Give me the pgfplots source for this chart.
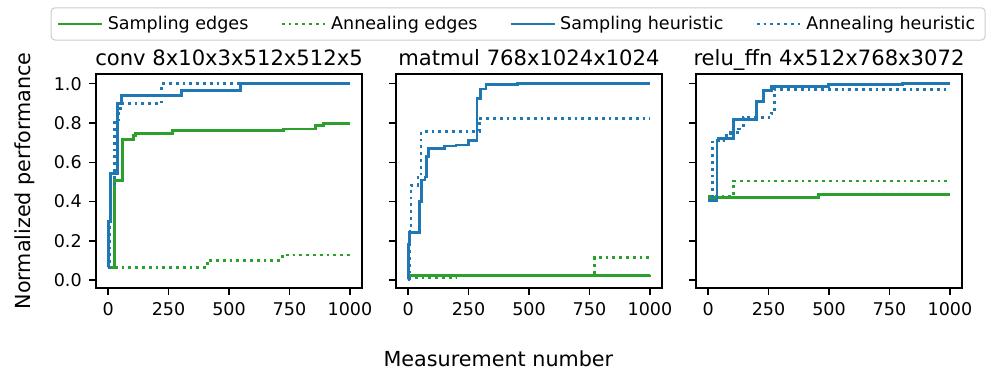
\documentclass[border=0pt]{standalone}
\usepackage{fontspec}
\setmainfont{DejaVu Sans}
\usepackage{pgfplots}
\pgfplotsset{compat=1.18}

\definecolor{tabgreen}{HTML}{2CA02C}
\definecolor{tabblue}{HTML}{1F77B4}

\pgfplotsset{
  panel/.style={
    scale only axis, width=133bp, height=107bp,
    xmin=-50, xmax=1050, ymin=-0.04, ymax=1.05,
    xtick={0,250,500,750,1000}, ytick={0,0.2,0.4,0.6,0.8,1.0},
    tick align=outside, xtick pos=bottom, ytick pos=left,
    major tick length=3.5bp,
    every axis/.append style={line width=0.67bp},
    tick style={line width=0.67bp, black},
    const plot,
    every axis title shift=0pt,
    title style={font=\fontsize{10.6}{12}\selectfont,
      at={(axis description cs:0.5,1)}, anchor=base, yshift=4bp},
    tick label style={font=\fontsize{8.8}{10}\selectfont},
    label style={font=\fontsize{10.4}{12}\selectfont},
    /pgf/number format/assume math mode=true,
    /pgf/number format/1000 sep={},
    yticklabel style={/pgf/number format/.cd, fixed, fixed zerofill, precision=1},
    legend image code/.code={\draw[#1] (0bp,0bp) -- (18bp,0bp);
      \path (0bp,0bp) -- (22bp,0bp);},
  },
  se/.style={tabgreen, line width=1.4bp},
  ae/.style={tabgreen, line width=1.4bp, dash pattern=on 1.4bp off 2bp},
  sh/.style={tabblue, line width=1.4bp},
  ah/.style={tabblue, line width=1.4bp, dash pattern=on 1.4bp off 2bp},
}

\begin{document}
\begin{tikzpicture}
\path[use as bounding box] (-48bp,-43bp) rectangle (450.5bp,144bp);

% conv
\begin{axis}[panel, at={(0bp,0bp)},
  title={conv 8x10x3x512x512x5},
  ylabel={Normalized performance},
  ylabel style={at={(axis description cs:-0.267,0.5)}, anchor=center}]
\addplot[se] coordinates {(0,0.063) (25,0.507) (59,0.718) (105,0.735) (112,0.748)
  (266,0.762) (727,0.770) (858,0.787) (892,0.796) (1000,0.796)};
\addplot[ae] coordinates {(0,0.063) (410,0.094) (424,0.102) (720,0.128) (1000,0.128)};
\addplot[sh] coordinates {(0,0.063) (3,0.30) (10,0.544) (39,0.90) (57,0.94)
  (303,0.966) (548,1.0) (1000,1.0)};
\addplot[ah] coordinates {(0,0.063) (8,0.49) (25,0.816) (45,0.85) (50,0.898)
  (220,1.0) (1000,1.0)};
\end{axis}

% matmul
\begin{axis}[panel, at={(150bp,0bp)},
  title={matmul 768x1024x1024},
  yticklabels={},
  xlabel={Measurement number},
  xlabel style={at={(axis description cs:0.385,-0.369)}, anchor=base},
  legend columns=4,
  legend style={at={(axis description cs:0.459,1.234)}, anchor=center,
    draw=black!20, rounded corners=2bp, line width=0.5bp,
    font=\fontsize{8.8}{10}\selectfont,
    /tikz/every even column/.append style={column sep=14bp}}]
\addplot[se] coordinates {(0,0.01) (5,0.024) (1000,0.025)};
\addlegendentry{Sampling edges}
\addplot[ae] coordinates {(0,0.014) (198,0.022) (772,0.116) (1000,0.116)};
\addlegendentry{Annealing edges}
\addplot[sh] coordinates {(0,0.005) (3,0.18) (5,0.244) (48,0.40) (55,0.51) (70,0.525)
  (76,0.63) (83,0.67) (152,0.683) (198,0.688) (250,0.71) (285,0.927) (299,0.974)
  (322,0.995) (454,1.0) (1000,1.0)};
\addlegendentry{Sampling heuristic}
\addplot[ah] coordinates {(0,0.01) (8,0.27) (12,0.483) (41,0.525) (53,0.756)
  (295,0.824) (1000,0.824)};
\addlegendentry{Annealing heuristic}
\end{axis}

% relu_ffn
\begin{axis}[panel, at={(300bp,0bp)},
  title={relu\_ffn 4x512x768x3072},
  yticklabels={}]
\addplot[se] coordinates {(0,0.41) (10,0.42) (458,0.437) (1000,0.437)};
\addplot[ae] coordinates {(0,0.427) (106,0.505) (1000,0.505)};
\addplot[sh] coordinates {(0,0.406) (37,0.713) (44,0.72) (106,0.82) (199,0.91)
  (230,0.966) (262,0.986) (499,0.995) (803,1.0) (1000,1.0)};
\addplot[ah] coordinates {(0,0.406) (17,0.713) (65,0.737) (94,0.75) (127,0.77)
  (145,0.83) (263,0.85) (276,0.973) (1000,0.973)};
\end{axis}
\end{tikzpicture}
\end{document}
